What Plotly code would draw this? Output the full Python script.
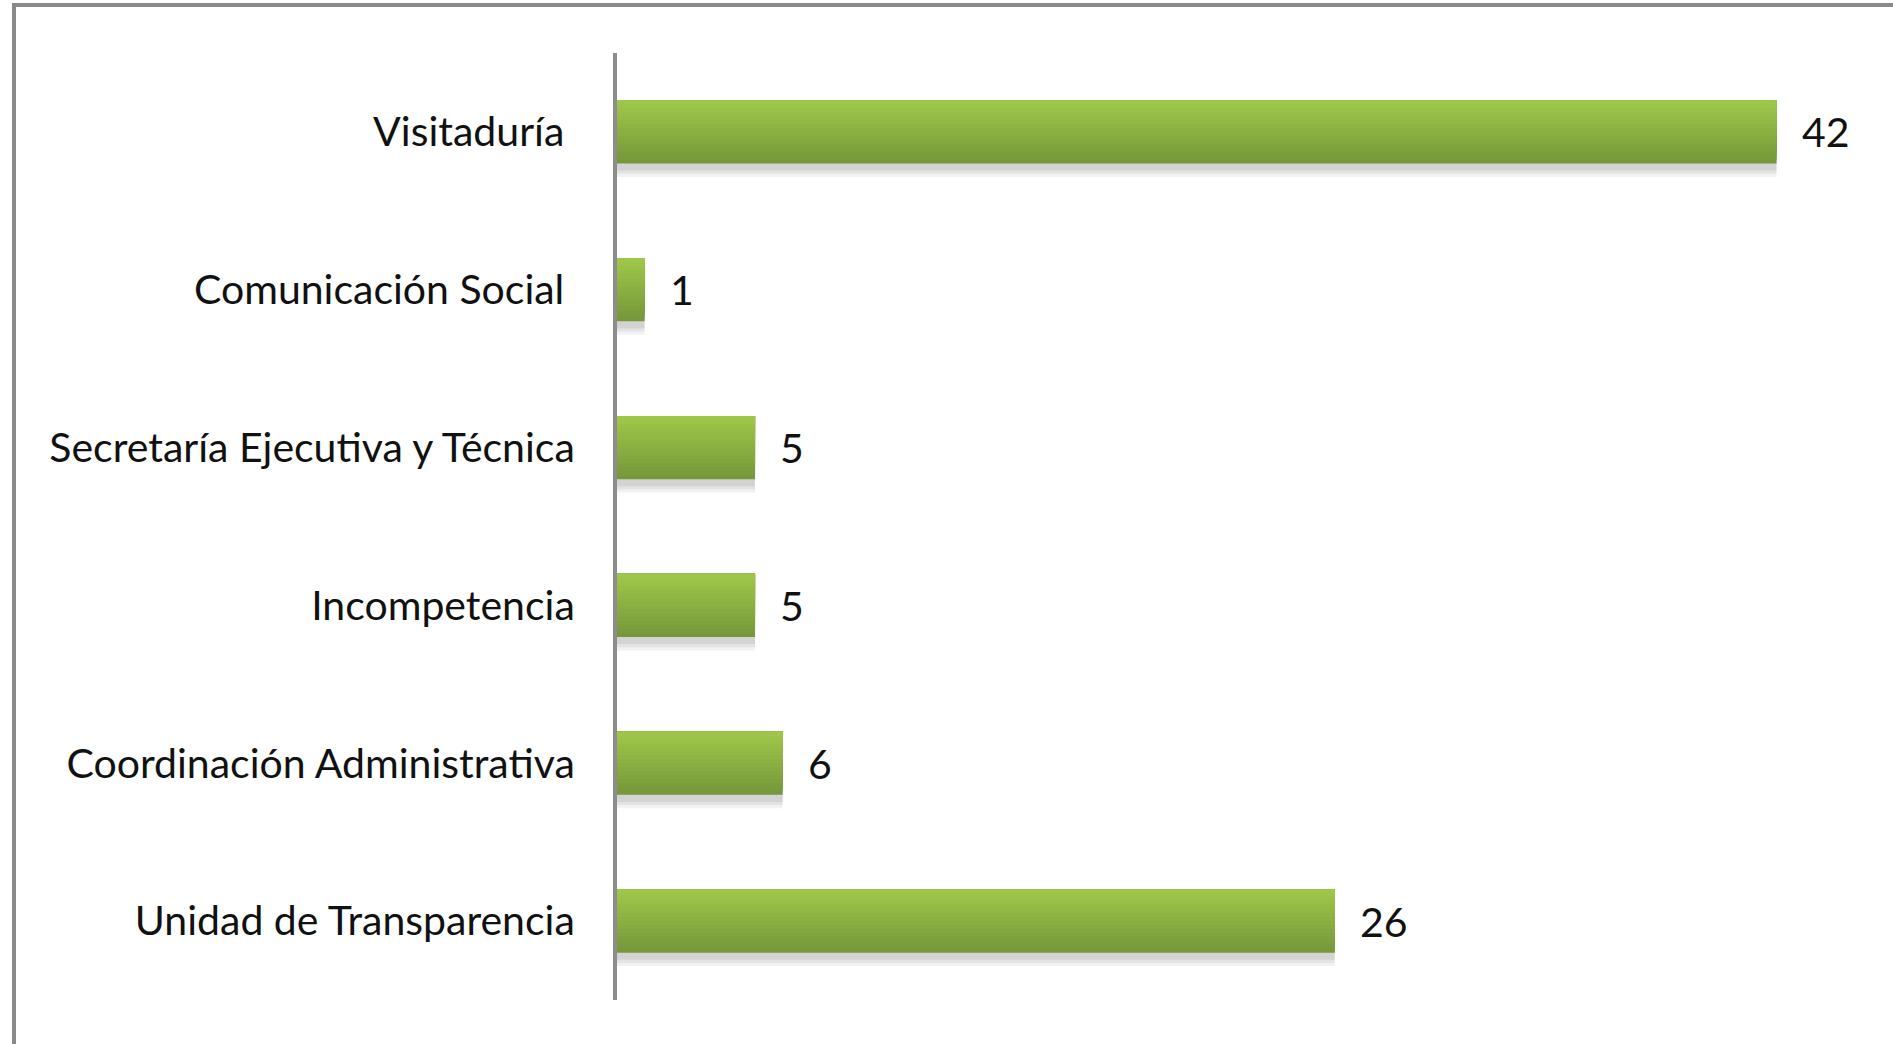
import plotly.graph_objects as go

categories = [
    "Visitaduría\u00a0",
    "Comunicación Social\u00a0",
    "Secretaría Ejecutiva y Técnica",
    "Incompetencia",
    "Coordinación Administrativa",
    "Unidad de Transparencia",
]
values = [42, 1, 5, 5, 6, 26]

FONT = "Lato"
FONT_SIZE = 41

top_rgb = (158, 199, 73)
bottom_rgb = (118, 152, 58)
BAR_W = 0.4
N_STEPS = 16

fig = go.Figure()

# soft shadow under the bars
for ext, alpha in [(0.075, 0.05), (0.055, 0.06), (0.035, 0.07)]:
    fig.add_trace(go.Bar(
        y=categories, x=values, orientation="h",
        width=BAR_W + ext, offset=-BAR_W / 2 + 0.01,
        marker=dict(color=f"rgba(0,0,0,{alpha})", line=dict(width=0)),
        hoverinfo="skip", showlegend=False,
    ))

# vertical gradient built from stacked overlay bars (light at top, dark at bottom)
for k in range(N_STEPS):
    t = k / (N_STEPS - 1)
    r = round(bottom_rgb[0] + (top_rgb[0] - bottom_rgb[0]) * t)
    g = round(bottom_rgb[1] + (top_rgb[1] - bottom_rgb[1]) * t)
    b = round(bottom_rgb[2] + (top_rgb[2] - bottom_rgb[2]) * t)
    w = BAR_W * (N_STEPS - k) / N_STEPS
    fig.add_trace(go.Bar(
        y=categories, x=values, orientation="h",
        width=w, offset=-BAR_W / 2,
        marker=dict(color=f"rgb({r},{g},{b})", line=dict(width=0)),
        hoverinfo="skip", showlegend=False,
    ))

for c, v in zip(categories, values):
    fig.add_annotation(
        x=v, y=c, xref="x", yref="y", text=str(v), showarrow=False,
        xanchor="left", yanchor="middle", xshift=23,
        font=dict(family=FONT, size=FONT_SIZE, color="#111111"),
    )

# outer frame of the chart area
fig.add_shape(
    type="rect", xref="paper", yref="paper",
    x0=-0.4748, x1=1.2, y0=-0.2, y1=1.0507,
    line=dict(color="#8a8a8a", width=4), layer="above",
)

fig.update_layout(
    width=1893, height=1044,
    margin=dict(l=617, r=6, t=53, b=44),
    paper_bgcolor="white", plot_bgcolor="white",
    barmode="overlay",
    showlegend=False,
    font=dict(family=FONT, size=FONT_SIZE, color="#111111"),
)
fig.update_xaxes(
    range=[0, 46], visible=False, showgrid=False, zeroline=False,
)
fig.update_yaxes(
    categoryorder="array", categoryarray=categories,
    range=[5.5, -0.5], showgrid=False, zeroline=False,
    showline=True, linecolor="#8c8c8c", linewidth=4,
    ticks="", ticklabelstandoff=30,
    tickfont=dict(family=FONT, size=FONT_SIZE, color="#111111"),
)

fig.write_html(
    "out.html",
    config={"displayModeBar": False},
    post_script="document.body.style.margin='0';document.body.style.overflow='hidden';",
)
